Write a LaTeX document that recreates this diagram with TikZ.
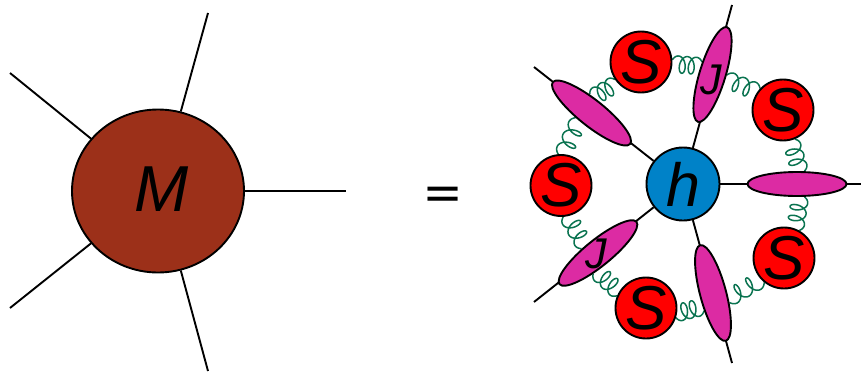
\documentclass[tikz,border=0pt]{standalone}
\usepackage{fontspec}
\setmainfont{Liberation Sans}
\usetikzlibrary{shapes.geometric,backgrounds,calc}
\definecolor{brownM}{HTML}{9C3019}
\definecolor{blueH}{HTML}{0082C8}
\definecolor{magJ}{HTML}{DC2BA3}
\definecolor{gluon}{HTML}{0A7350}
\tikzset{
  x=1pt,y=-1pt,
  leg/.style={draw=black,line width=1.9pt},
  blobM/.style={ellipse,draw=black,line width=1.9pt,fill=brownM,minimum width=172pt,minimum height=163pt,inner sep=0pt},
  blobH/.style={circle,draw=black,line width=1.9pt,fill=blueH,minimum size=73pt,inner sep=0pt,font=\fontsize{61}{61}\selectfont\itshape},
  softS/.style={circle,draw=black,line width=1.9pt,fill=red,minimum size=61pt,inner sep=0pt,font=\fontsize{62}{62}\selectfont\itshape},
  jet/.style={ellipse,draw=black,line width=1.9pt,fill=magJ,minimum width=99pt,minimum height=26pt,inner sep=0pt},
  jetlabel/.style={inner sep=0pt,font=\fontsize{43}{43}\selectfont\itshape},
  masslabel/.style={inner sep=0pt,font=\fontsize{65}{65}\selectfont\itshape},
  gluonline/.style={draw=gluon,line width=1.5pt,line join=round},
  eqsign/.style={inner sep=0pt,transform shape,yscale=0.62,font=\fontsize{60}{60}\selectfont\bfseries}
}
% coil from #1 to #2, with its loops on the right-hand side of the direction of travel
\newcommand{\gluonlink}[2]{%
  \draw[gluonline] let \p1=(#1),\p2=(#2),
    \n1={veclen(\x2-\x1,\y2-\y1)},
    \n2={(\x2-\x1)/\n1},
    \n3={(\y2-\y1)/\n1} in
    plot[domain=-60:780,samples=110,variable=\t]
    ({\x1+((\t+60)/840*(\n1-8.66)+5*(sin(\t)+0.866))*\n2+17*((1-cos(\t))/2-0.25)*\n3},
     {\y1+((\t+60)/840*(\n1-8.66)+5*(sin(\t)+0.866))*\n3-17*((1-cos(\t))/2-0.25)*\n2});%
}
\begin{document}
\begin{tikzpicture}
\useasboundingbox (0,0) rectangle (861,372);
% left blob
\coordinate (m1) at (208,13);
\coordinate (m2) at (10,73);
\coordinate (m3) at (346,191);
\coordinate (m4) at (10,308);
\coordinate (m5) at (208,371);
\node[blobM] (M) at (158,191) {};
\node[masslabel] (Mt) at (161.5,189) {M};
\draw[leg] (M.74) -- (m1);
\draw[leg] (M.142) -- (m2);
\draw[leg] (M.0) -- (m3);
\draw[leg] (M.218) -- (m4);
\draw[leg] (M.286) -- (m5);
\node[eqsign] (eq) at (443,197) {=};
% right
\node[blobH] (h) at (683,184) {h};
\node[softS] (SL) at (561,185.5) {S};
\node[softS] (STL) at (641,62) {S};
\node[softS] (STR) at (783,110) {S};
\node[softS] (SBR) at (784,258) {S};
\node[softS] (SB) at (646,308) {S};
\coordinate (o1) at (534,67);
\coordinate (o2) at (732,5);
\coordinate (o3) at (861,184);
\coordinate (o4) at (732,363);
\coordinate (o5) at (534,302);
\begin{pgfonlayer}{background}
\draw[leg] (h) -- (o1);
\draw[leg] (h) -- (o2);
\draw[leg] (h) -- (o3);
\draw[leg] (h) -- (o4);
\draw[leg] (h) -- (o5);
\end{pgfonlayer}
\node[jet,rotate=-38.6] (E1) at (591.5,113) {};
\node[jet,rotate=73] (E2) at (712.5,74.5) {};
\node[jet,minimum height=24pt] (E3) at (797,184) {};
\node[jet,rotate=-75] (E4) at (713,293) {};
\node[jet,rotate=39] (E5) at (598,253) {};
\node[jetlabel] (J1) at (711,80) {J};
\node[jetlabel] (J2) at (596,254) {J};
\begin{pgfonlayer}{background}
\gluonlink{SL.95}{E1.235}
\gluonlink{E1.134}{STL.214}
\gluonlink{STL.4}{E2.57}
\gluonlink{E2.-75}{STR.137}
\gluonlink{STR.-68}{E3.60}
\gluonlink{E3.-60}{SBR.61}
\gluonlink{SBR.231}{E4.45}
\gluonlink{E4.-42}{SB.-18}
\gluonlink{SB.157}{E5.218}
\gluonlink{E5.126}{SL.-86}
\end{pgfonlayer}
\end{tikzpicture}
\end{document}
